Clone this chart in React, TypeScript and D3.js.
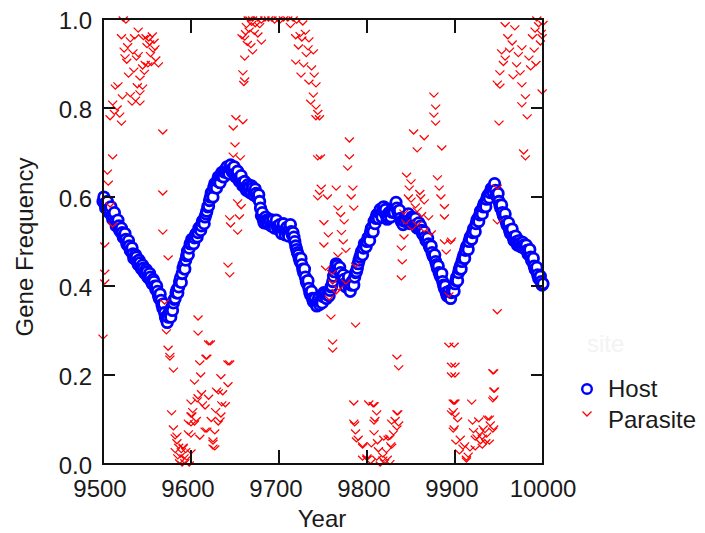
import React from "react";
import * as d3 from "d3";

const W = 705;
const H = 533;

const xTicks = [9500, 9600, 9700, 9800, 9900, 10000];
const yTicks = [0, 0.2, 0.4, 0.6, 0.8, 1.0];
const xTitle = "Year";
const yTitle = "Gene Frequency";
const seriesNames = ["Host", "Parasite"];

// Host gene frequency, even years 9500..10000
const hostEvenStart = 9500;
const hostEvenValues = [
  0.590, 0.585, 0.582, 0.572, 0.570, 0.558, 0.556, 0.545, 0.540, 0.535,
  0.522, 0.520, 0.508, 0.505, 0.492, 0.490, 0.478, 0.472, 0.462, 0.465,
  0.448, 0.452, 0.438, 0.440, 0.428, 0.432, 0.418, 0.420, 0.405, 0.410,
  0.392, 0.388, 0.372, 0.368, 0.350, 0.340, 0.325, 0.330, 0.338, 0.352,
  0.362, 0.372, 0.392, 0.398, 0.418, 0.428, 0.448, 0.458, 0.478, 0.485,
  0.495, 0.502, 0.508, 0.518, 0.520, 0.532, 0.535, 0.548, 0.555, 0.568,
  0.580, 0.600, 0.608, 0.622, 0.628, 0.636, 0.640, 0.648, 0.650, 0.656,
  0.660, 0.658, 0.665, 0.662, 0.660, 0.652, 0.650, 0.642, 0.640, 0.632,
  0.628, 0.622, 0.618, 0.622, 0.612, 0.620, 0.612, 0.608, 0.598, 0.590,
  0.558, 0.550, 0.545, 0.548, 0.540, 0.546, 0.538, 0.536, 0.542, 0.534,
  0.530, 0.524, 0.532, 0.524, 0.526, 0.518, 0.530, 0.522, 0.520, 0.500,
  0.482, 0.470, 0.455, 0.448, 0.430, 0.420, 0.405, 0.395, 0.380, 0.372,
  0.365, 0.360, 0.366, 0.358, 0.370, 0.376, 0.382, 0.372, 0.386, 0.390,
  0.400, 0.422, 0.440, 0.446, 0.435, 0.430, 0.418, 0.415, 0.398, 0.412,
  0.395, 0.402, 0.410, 0.420, 0.432, 0.450, 0.465, 0.478, 0.485, 0.492,
  0.500, 0.510, 0.522, 0.530, 0.545, 0.552, 0.560, 0.565, 0.562, 0.570,
  0.565, 0.558, 0.555, 0.562, 0.566, 0.572, 0.580, 0.575, 0.560, 0.552,
  0.545, 0.546, 0.552, 0.556, 0.548, 0.545, 0.552, 0.545, 0.538, 0.535,
  0.528, 0.525, 0.515, 0.510, 0.502, 0.495, 0.485, 0.475, 0.465, 0.455,
  0.440, 0.430, 0.420, 0.410, 0.395, 0.385, 0.380, 0.378, 0.385, 0.395,
  0.405, 0.420, 0.430, 0.445, 0.455, 0.470, 0.480, 0.490, 0.500, 0.512,
  0.520, 0.530, 0.540, 0.552, 0.560, 0.570, 0.578, 0.585, 0.595, 0.605,
  0.610, 0.620, 0.622, 0.615, 0.600, 0.590, 0.575, 0.565, 0.555, 0.545,
  0.535, 0.525, 0.520, 0.510, 0.505, 0.500, 0.495, 0.496, 0.490, 0.492,
  0.485, 0.480, 0.476, 0.465, 0.455, 0.445, 0.435, 0.425, 0.415, 0.410,
  0.405,
];

// Host gene frequency, odd years 9501..9999
const hostOddStart = 9501;
const hostOddValues = [
  0.600, 0.575, 0.590, 0.565, 0.578, 0.550, 0.565, 0.535, 0.548, 0.525,
  0.530, 0.510, 0.518, 0.495, 0.502, 0.480, 0.486, 0.462, 0.470, 0.455,
  0.458, 0.442, 0.447, 0.430, 0.437, 0.420, 0.428, 0.410, 0.415, 0.400,
  0.400, 0.378, 0.382, 0.358, 0.360, 0.330, 0.318, 0.340, 0.330, 0.345,
  0.370, 0.385, 0.384, 0.410, 0.408, 0.440, 0.438, 0.468, 0.470, 0.495,
  0.505, 0.495, 0.515, 0.510, 0.530, 0.525, 0.545, 0.540, 0.562, 0.578,
  0.592, 0.610, 0.600, 0.630, 0.620, 0.645, 0.632, 0.655, 0.645, 0.662,
  0.668, 0.652, 0.672, 0.656, 0.668, 0.645, 0.658, 0.635, 0.648, 0.625,
  0.635, 0.615, 0.628, 0.610, 0.625, 0.605, 0.618, 0.600, 0.605, 0.575,
  0.565, 0.542, 0.555, 0.540, 0.550, 0.535, 0.548, 0.530, 0.548, 0.528,
  0.538, 0.518, 0.540, 0.515, 0.532, 0.512, 0.538, 0.515, 0.510, 0.490,
  0.475, 0.462, 0.462, 0.438, 0.438, 0.410, 0.412, 0.385, 0.388, 0.365,
  0.372, 0.355, 0.372, 0.365, 0.362, 0.385, 0.375, 0.380, 0.378, 0.398,
  0.410, 0.432, 0.450, 0.438, 0.442, 0.420, 0.425, 0.405, 0.408, 0.420,
  0.388, 0.410, 0.402, 0.430, 0.440, 0.458, 0.472, 0.470, 0.495, 0.488,
  0.508, 0.502, 0.530, 0.522, 0.540, 0.560, 0.552, 0.572, 0.555, 0.578,
  0.572, 0.550, 0.565, 0.555, 0.574, 0.565, 0.588, 0.568, 0.570, 0.545,
  0.538, 0.555, 0.545, 0.562, 0.540, 0.555, 0.545, 0.552, 0.530, 0.542,
  0.535, 0.518, 0.522, 0.502, 0.508, 0.488, 0.490, 0.468, 0.470, 0.448,
  0.445, 0.425, 0.428, 0.402, 0.400, 0.378, 0.388, 0.372, 0.392, 0.388,
  0.412, 0.412, 0.438, 0.438, 0.462, 0.462, 0.488, 0.482, 0.508, 0.505,
  0.528, 0.522, 0.548, 0.545, 0.568, 0.562, 0.585, 0.578, 0.602, 0.598,
  0.618, 0.612, 0.630, 0.605, 0.608, 0.582, 0.582, 0.558, 0.562, 0.538,
  0.542, 0.518, 0.528, 0.502, 0.512, 0.492, 0.502, 0.488, 0.498, 0.484,
  0.492, 0.472, 0.482, 0.458, 0.462, 0.438, 0.442, 0.418, 0.422, 0.402,
];

// Parasite gene frequency readings: [year, frequency]
const parasitePoints: [number, number][] = [
  [9523, 1.0], [9526, 0.995], [9540, 0.975], [9556, 0.964], [9521, 0.96], [9531, 0.953],
  [9553, 0.946], [9559, 0.935], [9534, 0.926], [9525, 0.915], [9538, 0.912], [9551, 0.897],
  [9563, 0.897], [9545, 0.892], [9529, 0.874], [9542, 0.867], [9548, 0.9], [9555, 0.9],
  [9560, 0.91], [9517, 0.852], [9545, 0.847], [9514, 0.847], [9542, 0.834], [9533, 0.811],
  [9511, 0.811], [9542, 0.811], [9537, 0.82], [9508, 0.778], [9519, 0.784], [9521, 0.766],
  [9513, 0.79], [9568, 0.746], [9511, 0.69], [9505, 0.656], [9506, 0.631], [9568, 0.609],
  [9508, 0.582], [9511, 0.537], [9568, 0.521], [9502, 0.492], [9574, 0.463], [9502, 0.431],
  [9502, 0.409], [9570, 0.364], [9500, 0.285], [9572, 0.297], [9574, 0.26], [9576, 0.244],
  [9576, 0.238], [9580, 0.211], [9578, 0.115], [9580, 0.081], [9584, 0.065], [9588, 0.02],
  [9595, 0.013], [9591, 0.04], [9597, 0.094], [9582, 0.061], [9584, 0.05], [9591, 0.038],
  [9585, 0.016], [9592, 0.016], [9589, 0.03], [9597, 0.07], [9600, 0.09], [9601, 0.11],
  [9587, 0.005], [9590, 0.0], [9593, 0.005], [9546, 0.958], [9550, 0.94], [9557, 0.93],
  [9536, 0.96], [9528, 0.94], [9524, 0.93], [9549, 0.96], [9552, 0.955], [9558, 0.95],
  [9554, 0.92], [9540, 0.92], [9527, 0.905], [9535, 0.885], [9547, 0.88], [9539, 0.85],
  [9531, 0.83], [9516, 0.8], [9522, 0.825], [9582, 0.03], [9586, 0.04], [9594, 0.03],
  [9665, 1.0], [9673, 0.987], [9688, 1.0], [9699, 1.0], [9662, 0.969], [9676, 0.964],
  [9680, 0.948], [9661, 0.957], [9670, 0.926], [9661, 0.912], [9659, 0.879], [9661, 0.863],
  [9660, 0.855], [9651, 0.778], [9659, 0.769], [9648, 0.755], [9650, 0.717], [9648, 0.694],
  [9656, 0.688], [9653, 0.589], [9657, 0.578], [9644, 0.553], [9655, 0.555], [9645, 0.537],
  [9653, 0.521], [9642, 0.447], [9644, 0.425], [9608, 0.328], [9608, 0.294], [9622, 0.272],
  [9617, 0.24], [9610, 0.227], [9644, 0.227], [9634, 0.196], [9611, 0.2], [9604, 0.184],
  [9642, 0.178], [9631, 0.162], [9608, 0.151], [9600, 0.139], [9639, 0.133], [9616, 0.128],
  [9600, 0.11], [9634, 0.11], [9604, 0.092], [9631, 0.092], [9616, 0.076], [9627, 0.072],
  [9600, 0.065], [9625, 0.049], [9627, 0.036], [9600, 0.027], [9598, 0.0], [9620, 0.272],
  [9618, 0.24], [9642, 0.227], [9629, 0.166], [9607, 0.144], [9613, 0.135], [9635, 0.135],
  [9633, 0.099], [9618, 0.076], [9625, 0.054], [9625, 0.038], [9667, 1.0], [9670, 1.0],
  [9676, 1.0], [9680, 0.995], [9684, 1.0], [9692, 1.0], [9695, 0.995], [9669, 0.99],
  [9663, 0.985], [9666, 0.975], [9672, 0.97], [9678, 0.985], [9658, 0.96], [9664, 0.945],
  [9668, 0.94], [9602, 0.12], [9606, 0.1], [9612, 0.16], [9620, 0.15], [9636, 0.16],
  [9623, 0.1], [9628, 0.12], [9610, 0.06],
  [9705, 1.0], [9716, 1.0], [9701, 0.995], [9727, 0.991], [9710, 1.0], [9720, 0.995],
  [9719, 0.96], [9734, 0.953], [9722, 0.937], [9733, 0.935], [9739, 0.926], [9719, 0.903],
  [9728, 0.897], [9725, 0.874], [9740, 0.874], [9734, 0.858], [9742, 0.852], [9739, 0.829],
  [9736, 0.813], [9742, 0.802], [9742, 0.778], [9746, 0.778], [9744, 0.688], [9780, 0.728],
  [9780, 0.69], [9778, 0.665], [9748, 0.622], [9765, 0.62], [9784, 0.62], [9744, 0.598],
  [9767, 0.575], [9785, 0.575], [9774, 0.544], [9751, 0.542], [9756, 0.515], [9771, 0.52],
  [9751, 0.492], [9773, 0.499], [9767, 0.47], [9753, 0.44], [9787, 0.447], [9761, 0.409],
  [9776, 0.409], [9757, 0.373], [9765, 0.387], [9759, 0.33], [9787, 0.312], [9761, 0.274],
  [9761, 0.256], [9785, 0.137], [9802, 0.137], [9785, 0.094], [9787, 0.072], [9790, 0.058],
  [9795, 0.043], [9795, 0.013], [9800, 0.013], [9786, 0.09], [9788, 0.054], [9795, 0.04],
  [9730, 0.97], [9713, 0.985], [9724, 0.965], [9747, 0.69], [9755, 0.6], [9770, 0.56],
  [9760, 0.43], [9768, 0.395], [9776, 0.48], [9746, 0.61], [9782, 0.6], [9731, 0.92],
  [9737, 0.89], [9726, 0.955], [9744, 0.79],
  [9876, 0.829], [9878, 0.802], [9876, 0.784], [9878, 0.766], [9853, 0.746], [9865, 0.733],
  [9857, 0.706], [9885, 0.71], [9845, 0.649], [9850, 0.634], [9880, 0.643], [9848, 0.62],
  [9882, 0.62], [9861, 0.6], [9884, 0.6], [9850, 0.593], [9865, 0.589], [9888, 0.578],
  [9857, 0.571], [9842, 0.566], [9888, 0.555], [9870, 0.553], [9844, 0.544], [9857, 0.54],
  [9865, 0.526], [9851, 0.53], [9873, 0.519], [9842, 0.51], [9888, 0.499], [9895, 0.499],
  [9890, 0.476], [9839, 0.485], [9840, 0.454], [9839, 0.418], [9893, 0.38], [9893, 0.267],
  [9834, 0.24], [9836, 0.216], [9896, 0.222], [9896, 0.2], [9808, 0.133], [9811, 0.115],
  [9834, 0.115], [9808, 0.094], [9828, 0.094], [9899, 0.139], [9896, 0.115], [9899, 0.081],
  [9808, 0.07], [9830, 0.07], [9819, 0.058], [9805, 0.043], [9827, 0.043], [9901, 0.049],
  [9800, 0.013], [9811, 0.013], [9823, 0.013], [9818, 0.02], [9807, 0.133], [9809, 0.1],
  [9835, 0.115], [9824, 0.058], [9834, 0.081], [9800, 0.016], [9818, 0.011], [9813, 0.032],
  [9828, 0.04], [9804, 0.005], [9815, 0.0], [9820, 0.005], [9826, 0.003], [9832, 0.1],
  [9836, 0.09], [9826, 0.06], [9822, 0.03], [9812, 0.05], [9847, 0.6], [9855, 0.58],
  [9862, 0.56], [9860, 0.61],
  [9898, 0.139], [9919, 0.139], [9943, 0.207], [9945, 0.166], [9943, 0.144], [9898, 0.12],
  [9903, 0.099], [9920, 0.094], [9937, 0.103], [9932, 0.081], [9943, 0.076], [9898, 0.076],
  [9906, 0.058], [9925, 0.061], [9935, 0.05], [9909, 0.038], [9917, 0.034], [9913, 0.013],
  [9931, 0.04], [9957, 0.987], [9968, 0.98], [9995, 0.987], [9991, 0.975], [9965, 0.946],
  [9976, 0.935], [9997, 0.946], [9953, 0.926], [9957, 0.912], [9984, 0.912], [9970, 0.897],
  [9986, 0.89], [9974, 0.879], [9951, 0.879], [9976, 0.852], [9948, 0.856], [9951, 0.849],
  [9999, 0.836], [9980, 0.825], [9976, 0.807], [9982, 0.78], [9950, 0.766], [9978, 0.701],
  [9980, 0.688], [9948, 0.622], [9948, 0.544], [9948, 0.342], [9896, 0.503], [9899, 0.267],
  [9900, 0.222], [9900, 0.2], [9944, 0.207], [9944, 0.166], [9944, 0.148], [9900, 0.139],
  [9900, 0.11], [9927, 0.099], [9939, 0.103], [9944, 0.081], [9923, 0.058], [9931, 0.06],
  [9911, 0.043], [9939, 0.049], [9905, 0.027], [9913, 0.009], [9923, 0.036], [9928, 0.07],
  [9934, 0.075], [9915, 0.02], [9960, 0.96], [9962, 0.93], [9972, 0.92], [9988, 0.96],
  [9993, 1.0], [9998, 0.97], [10000, 0.99], [9999, 0.96], [9955, 0.9], [9966, 0.87],
  [9990, 0.93], [9992, 0.9], [9929, 0.05], [9936, 0.065], [9940, 0.09], [9921, 0.075],
];

const FONT = "'Liberation Sans', Arial, sans-serif";
const TEXT = "#1a1a1a";
const HOST_COLOR = "#0000ff";
const PARASITE_COLOR = "#ff0000";

function vPath(cx: number, cy: number) {
  return `M${cx - 4.5},${cy - 2.5}L${cx},${cy + 2}L${cx + 4.5},${cy - 2.5}`;
}

export default function App() {
  const x = d3.scaleLinear().domain([9500, 10000]).range([103, 543]);
  const y = d3.scaleLinear().domain([0, 1]).range([464, 19]);
  const [x0, x1] = x.range();
  const [y0, y1] = y.range();

  const hostPts: [number, number][] = [];
  hostEvenValues.forEach((v, i) => {
    hostPts.push([hostEvenStart + 2 * i, v]);
    if (i < hostOddValues.length) hostPts.push([hostOddStart + 2 * i, hostOddValues[i]]);
  });

  return (
    <svg
      width={W}
      height={H}
      style={{ position: "absolute", left: 0, top: 0, background: "#fff" }}
      fontFamily={FONT}
    >
      <rect x={0} y={0} width={W} height={H} fill="#fff" />

      {/* host */}
      <g fill="#fff" stroke={HOST_COLOR} strokeWidth={2.8}>
        {hostPts.map(([yr, v], i) => (
          <circle key={i} cx={x(yr)} cy={y(v)} r={5.2} />
        ))}
      </g>

      {/* parasite */}
      <g fill="none" stroke={PARASITE_COLOR} strokeWidth={1.25}>
        {parasitePoints.map(([yr, v], i) => (
          <path key={i} d={vPath(x(yr), y(v))} />
        ))}
      </g>

      {/* frame */}
      <rect x={x0} y={y1} width={x1 - x0} height={y0 - y1} fill="none" stroke="#111" strokeWidth={2} />

      {/* ticks */}
      <g stroke="#111" strokeWidth={2}>
        {xTicks.map((t) => (
          <g key={"xt" + t}>
            <line x1={x(t)} x2={x(t)} y1={y0} y2={y0 - 14} />
            <line x1={x(t)} x2={x(t)} y1={y1} y2={y1 + 14} />
          </g>
        ))}
        {yTicks.map((t) => (
          <g key={"yt" + t}>
            <line x1={x0} x2={x0 + 12} y1={y(t)} y2={y(t)} />
            <line x1={x1} x2={x1 - 12} y1={y(t)} y2={y(t)} />
          </g>
        ))}
      </g>

      {/* tick labels */}
      <g fontSize={24} fill={TEXT}>
        {xTicks.map((t) => (
          <text key={"xl" + t} x={x(t) - (t >= 10000 ? 0 : 3)} y={497} textAnchor="middle">
            {t}
          </text>
        ))}
        {yTicks.map((t) => (
          <text key={"yl" + t} x={92} y={y(t) + 10} textAnchor="end">
            {t.toFixed(1)}
          </text>
        ))}
      </g>

      {/* axis titles */}
      <text x={322} y={527} fontSize={24} fill={TEXT} textAnchor="middle">
        {xTitle}
      </text>
      <text
        transform="translate(33,247) rotate(-90)"
        fontSize={24}
        fill={TEXT}
        textAnchor="middle"
      >
        {yTitle}
      </text>

      {/* ghost text */}
      <text x={587} y={352} fontSize={24} fill="#f3f3f3">site</text>

      {/* legend */}
      <circle cx={587} cy={389} r={4.8} fill="#fff" stroke={HOST_COLOR} strokeWidth={2.4} />
      <text x={608} y={397} fontSize={24} fill={TEXT}>{seriesNames[0]}</text>
      <path d={vPath(587, 414)} fill="none" stroke={PARASITE_COLOR} strokeWidth={1.25} />
      <text x={608} y={428} fontSize={24} fill={TEXT}>{seriesNames[1]}</text>
    </svg>
  );
}
